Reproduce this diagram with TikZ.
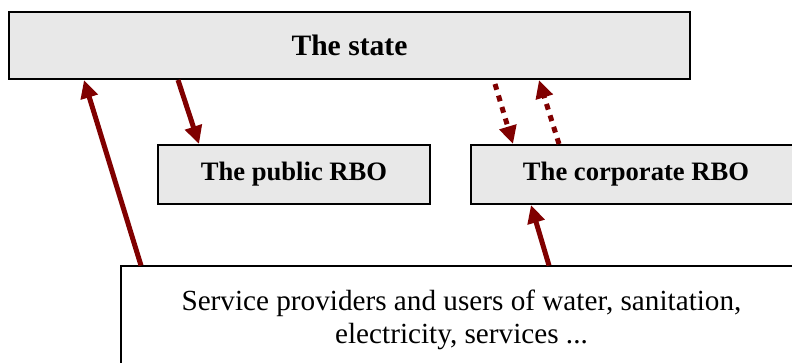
\documentclass[tikz,border=0pt]{standalone}
\usepackage{fontspec}
\setmainfont{Liberation Serif}
\usetikzlibrary{arrows.meta}
\definecolor{linkred}{RGB}{128,0,0}
\definecolor{boxgray}{RGB}{232,232,232}

\begin{document}
\begin{tikzpicture}[x=0.5pt,y=-0.5pt,
  box/.style={draw,line width=1pt,inner sep=0pt,fill=white,
    font=\fontsize{14.6pt}{16.5pt}\selectfont},
  graybox/.style={box,fill=boxgray,
    font=\fontsize{13.3pt}{15pt}\selectfont\bfseries},
  link/.style={draw=linkred,line width=2.5pt,
    -{Triangle[length=9pt,width=8.5pt,fill=linkred]}},
  dotlink/.style={link,dash pattern=on 3pt off 3pt}]
  \useasboundingbox (0,0) rectangle (792,363);
  \clip (0,0) rectangle (792,363);

  % the boxes
  \node[graybox,minimum width=340.5pt,minimum height=33.5pt,
    font=\fontsize{14.8pt}{16.5pt}\selectfont\bfseries] (state) at (349.5,45.5) {The state};
  \node[graybox,minimum width=136pt,minimum height=29.5pt] (public) at (294,174.5) {The public RBO};
  \node[graybox,minimum width=165pt,minimum height=29.5pt] (corp) at (636,174.5) {The corporate RBO};
  \node[box,align=center,minimum width=340.5pt,minimum height=53pt] (users) at (461.5,319.5)
    {Service providers and users of water, sanitation,\\ electricity, services ...};

  % solid links
  \draw[link] ([xshift=10.5pt]users.north west) -- ([xshift=38pt]state.south west);
  \draw[link] ([xshift=85pt]state.south west) -- ([xshift=21pt]public.north west);
  \draw[link] ([xshift=214.5pt]users.north west) -- ([xshift=30.5pt]corp.south west);

  % dotted links
  \draw[dotlink] ([xshift=243.5pt,yshift=-2pt]state.south west) -- ([xshift=21.5pt]corp.north west);
  \draw[dotlink] ([xshift=44.5pt]corp.north west) -- ([xshift=265.5pt]state.south west);
\end{tikzpicture}
\end{document}
